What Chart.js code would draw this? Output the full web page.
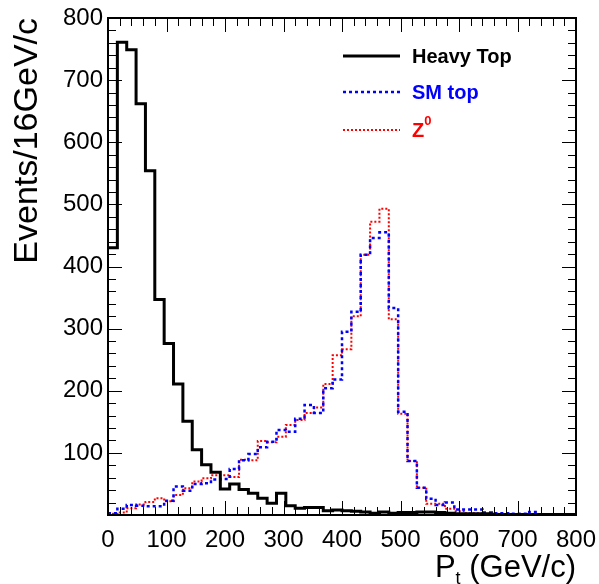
<!DOCTYPE html>
<html>
<head>
<meta charset="utf-8">
<script src="https://cdn.jsdelivr.net/npm/chart.js@4.4.1/dist/chart.umd.min.js"></script>
<style>
  html, body { margin: 0; padding: 0; background: #fff; }
  canvas { display: block; }
</style>
</head>
<body>
<canvas id="chart" width="599" height="584"></canvas>
<script>
// 50 bins of 16 GeV/c from 0 to 800
const binWidth = 16;

const heavyTop = [430, 761, 749, 662, 554, 347, 276, 211, 151, 105,
  81, 69, 42, 50, 41, 35, 27, 19, 35, 15,
  11, 12, 12, 7, 8, 7, 6, 5, 3, 5,
  3, 4, 4, 5, 5, 4, 3, 2, 2, 2,
  2, 1, 1, 1, 1, 1, 1, 1, 1, 1];

const smTop = [3, 10, 16, 15, 14, 14, 23, 46, 39, 50,
  51, 57, 58, 74, 88, 98, 109, 118, 137, 134,
  155, 177, 164, 204, 218, 295, 327, 419, 446, 455,
  333, 166, 87, 44, 26, 16, 20, 9, 9, 9,
  4, 3, 3, 2, 2, 5, 1, 1, 1, 1];

const zBoson = [2, 4, 11, 17, 21, 27, 22, 32, 43, 54,
  59, 64, 64, 61, 89, 88, 119, 117, 126, 145,
  153, 164, 173, 211, 257, 267, 320, 419, 472, 493,
  315, 163, 87, 44, 18, 18, 10, 6, 3, 3,
  2, 2, 1, 1, 1, 1, 1, 1, 1, 1];

const xTickLabels = [0, 100, 200, 300, 400, 500, 600, 700, 800];
const yTickLabels = [100, 200, 300, 400, 500, 600, 700, 800];

const FONT = '"Liberation Sans", Arial, Helvetica, sans-serif';

// histogram bins -> step points at the lower bin edges
function toSteps(vals) {
  const pts = vals.map((v, i) => ({ x: i * binWidth, y: v }));
  pts.push({ x: vals.length * binWidth, y: vals[vals.length - 1] });
  return pts;
}

const rootFrame = {
  id: 'rootFrame',
  afterDatasetsDraw(chart) {
    const { ctx, chartArea: a, scales } = chart;
    const xs = scales.x, ys = scales.y;
    ctx.save();
    ctx.strokeStyle = '#000';
    ctx.lineWidth = 1;
    ctx.beginPath();
    for (let v = 0; v <= 800; v += 20) {
      const len = v % 100 === 0 ? 14 : 8;
      const px = Math.round(xs.getPixelForValue(v)) + 0.5;
      ctx.moveTo(px, a.bottom); ctx.lineTo(px, a.bottom - len);
      ctx.moveTo(px, a.top); ctx.lineTo(px, a.top + len);
      const py = Math.round(ys.getPixelForValue(v)) + 0.5;
      ctx.moveTo(a.left, py); ctx.lineTo(a.left + len, py);
      ctx.moveTo(a.right, py); ctx.lineTo(a.right - len, py);
    }
    ctx.stroke();
    ctx.lineWidth = 2;
    ctx.strokeRect(a.left, a.top, a.right - a.left, a.bottom - a.top);

    // axis titles
    ctx.fillStyle = '#000';
    ctx.font = '31px ' + FONT;
    ctx.textBaseline = 'alphabetic';
    ctx.textAlign = 'right';
    const rest = ' (GeV/c)';
    const restW = ctx.measureText(rest).width;
    ctx.fillText(rest, a.right, 577);
    ctx.font = '18px ' + FONT;
    const tW = ctx.measureText('t').width;
    ctx.fillText('t', a.right - restW, 584);
    ctx.font = '31px ' + FONT;
    ctx.fillText('P', a.right - restW - tW, 577);

    ctx.save();
    ctx.translate(37, a.top);
    ctx.rotate(-Math.PI / 2);
    ctx.font = '34px ' + FONT;
    ctx.textAlign = 'right';
    ctx.fillText('Events/16GeV/c', 0, 0);
    ctx.restore();

    // legend
    const items = [
      { color: '#000', dash: [], width: 3, y: 56, text: 'Heavy Top' },
      { color: '#0000ff', dash: [3, 3], width: 2.5, y: 92, text: 'SM top' },
      { color: '#ff0000', dash: [2, 2], width: 2, y: 130, text: 'Z' }
    ];
    items.forEach(it => {
      ctx.beginPath();
      ctx.setLineDash(it.dash);
      ctx.lineWidth = it.width;
      ctx.strokeStyle = it.color;
      ctx.moveTo(343, it.y); ctx.lineTo(400, it.y);
      ctx.stroke();
      ctx.setLineDash([]);
      ctx.fillStyle = it.color;
      ctx.font = 'bold 20px ' + FONT;
      ctx.textAlign = 'left';
      ctx.textBaseline = 'middle';
      ctx.fillText(it.text, 412, it.y + 1);
      if (it.text === 'Z') {
        const zw = ctx.measureText('Z').width;
        ctx.font = 'bold 13px ' + FONT;
        ctx.fillText('0', 412 + zw, it.y - 9);
      }
    });
    ctx.restore();
  }
};

new Chart(document.getElementById('chart'), {
  type: 'line',
  data: {
    datasets: [
      {
        label: 'Heavy Top',
        data: toSteps(heavyTop),
        borderColor: '#000',
        borderWidth: 3,
        stepped: 'before',
        pointRadius: 0
      },
      {
        label: 'SM top',
        data: toSteps(smTop),
        borderColor: '#0000ff',
        borderWidth: 2.5,
        borderDash: [3, 3],
        stepped: 'before',
        pointRadius: 0
      },
      {
        label: 'Z0',
        data: toSteps(zBoson),
        borderColor: '#ff0000',
        borderWidth: 2,
        borderDash: [2, 2],
        stepped: 'before',
        pointRadius: 0
      }
    ]
  },
  options: {
    responsive: false,
    animation: false,
    layout: { padding: { top: 18, right: 23, left: 0, bottom: 0 } },
    plugins: {
      legend: { display: false },
      tooltip: { enabled: false }
    },
    scales: {
      x: {
        type: 'linear',
        min: 0,
        max: 800,
        afterBuildTicks: s => { s.ticks = xTickLabels.map(v => ({ value: v })); },
        afterFit: s => { s.height = 69; s.paddingLeft = 0; s.paddingRight = 0; },
        grid: { display: false, tickLength: 8 },
        border: { display: false },
        ticks: {
          color: '#000',
          padding: 3,
          maxRotation: 0,
          font: { family: FONT, size: 24 }
        }
      },
      y: {
        type: 'linear',
        min: 0,
        max: 800,
        afterBuildTicks: s => { s.ticks = yTickLabels.map(v => ({ value: v })); },
        afterFit: s => { s.width = 108; s.paddingTop = 0; s.paddingBottom = 0; },
        grid: { display: false, tickLength: 5 },
        border: { display: false },
        ticks: {
          color: '#000',
          padding: 0,
          font: { family: FONT, size: 24 }
        }
      }
    }
  },
  plugins: [rootFrame]
});
</script>
</body>
</html>
